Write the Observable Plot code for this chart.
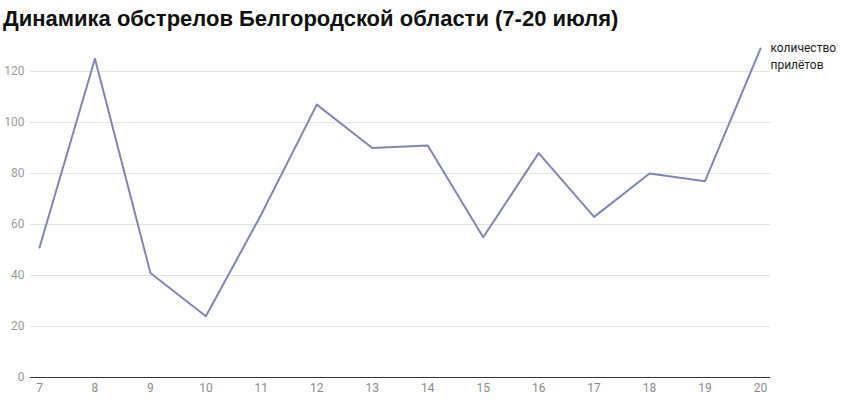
<!DOCTYPE html>
<html>
<head>
<meta charset="utf-8">
<script src="https://cdn.jsdelivr.net/npm/d3@7"></script>
<script src="https://cdn.jsdelivr.net/npm/@observablehq/plot@0.6"></script>
<style>
  html, body { margin: 0; padding: 0; background: #fff; }
  #title { height: 36px; box-sizing: border-box; padding: 6px 0 0 3px; margin: 0;
    font-family: "Liberation Sans", Arial, sans-serif;
    font-weight: bold; font-size: 22px; color: #111; line-height: 26px; white-space: nowrap; }
  #chart svg { display: block; }
</style>
</head>
<body>
<div id="title">Динамика обстрелов Белгородской области (7-20 июля)</div>
<div id="chart"></div>
<script>
const days = [7, 8, 9, 10, 11, 12, 13, 14, 15, 16, 17, 18, 19, 20];
const counts = [51, 125, 41, 24, 64, 107, 90, 91, 55, 88, 63, 80, 77, 129];
const yTicks = [0, 20, 40, 60, 80, 100, 120];
const seriesLabel = "количество\nприлётов";

const data = days.map((d, i) => ({day: d, value: counts[i]}));
const last = data[data.length - 1];

const chart = Plot.plot({
  width: 846,
  height: 366,
  marginTop: 9.5,
  marginBottom: 25,
  marginLeft: 30,
  marginRight: 76,
  style: {fontFamily: "Roboto, sans-serif", fontSize: "12px", background: "#fff"},
  x: {type: "linear", domain: [7, 20], insetLeft: 9, insetRight: 10},
  y: {domain: [0, 130]},
  marks: [
    Plot.ruleY(yTicks.filter(t => t > 0), {stroke: "#e3e3e3", strokeWidth: 1}),
    Plot.ruleY([0], {stroke: "#333", strokeWidth: 1.2}),
    Plot.axisY({ticks: yTicks, tickSize: 0, tickPadding: 6, label: null, fill: "#9a9a9a", fontSize: 12}),
    Plot.axisX({ticks: days, tickFormat: d => String(d), tickSize: 0, tickPadding: 6, label: null, fill: "#8a8a8a", fontSize: 12}),
    Plot.line(data, {x: "day", y: "value", stroke: "#7f86b4", strokeWidth: 2}),
    Plot.text([last], {x: "day", y: "value", text: () => seriesLabel, textAnchor: "start", lineAnchor: "top", dx: 10, dy: -8, fill: "#222", fontSize: 12, lineHeight: 1.4})
  ]
});
document.getElementById("chart").appendChild(chart);
</script>
</body>
</html>
